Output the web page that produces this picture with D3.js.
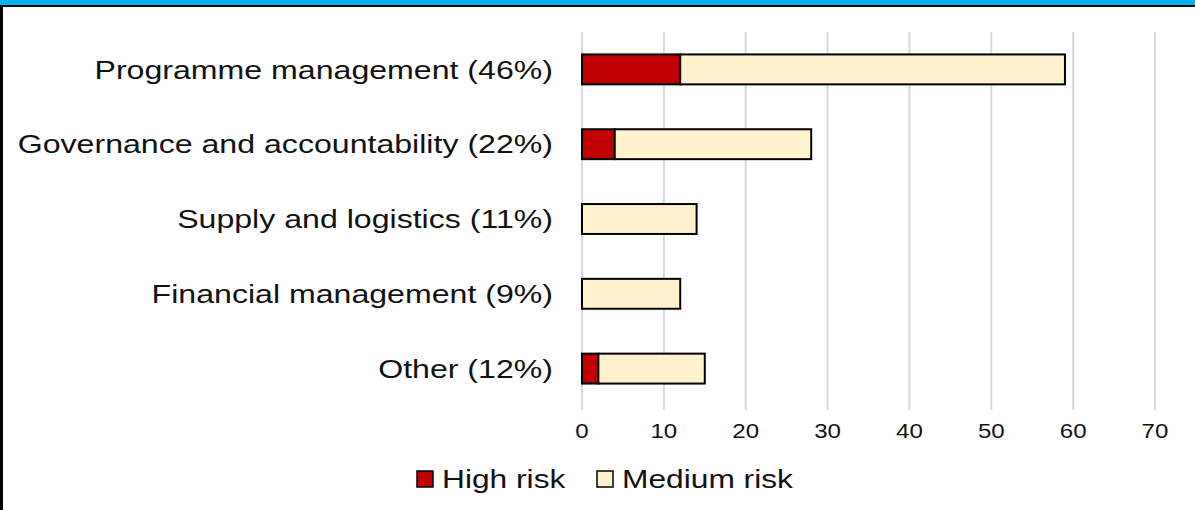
<!DOCTYPE html>
<html>
<head>
<meta charset="utf-8">
<script src="https://cdn.jsdelivr.net/npm/d3@7"></script>
<style>
  body { margin: 0; background: #fff; }
  svg { display: block; font-family: "Liberation Sans", Arial, sans-serif; }
</style>
</head>
<body>
<div id="chart"></div>
<script>
const categories = ['Programme management (46%)', 'Governance and accountability (22%)',
    'Supply and logistics (11%)', 'Financial management (9%)', 'Other (12%)'];
const highRisk = [12, 4, 0, 0, 2];
const mediumRisk = [47, 24, 14, 12, 13];
const xTicks = [0, 10, 20, 30, 40, 50, 60, 70];
const seriesNames = ['High risk', 'Medium risk'];
const seriesColors = ['#c00000', '#fff2cc'];

const width = 1195, height = 510;
const svg = d3.select('#chart').append('svg')
    .attr('width', width).attr('height', height);

// frame
svg.append('rect').attr('x', 0).attr('y', 0).attr('width', width).attr('height', 5).attr('fill', '#00b0f0');
svg.append('rect').attr('x', 0).attr('y', 5).attr('width', width).attr('height', 2).attr('fill', '#000');
svg.append('rect').attr('x', 0).attr('y', 5).attr('width', 3).attr('height', height).attr('fill', '#000');

const x = d3.scaleLinear().domain([0, 70]).range([582, 1155]);
const y = d3.scaleBand().domain(categories).range([32, 406]).paddingInner(0.6).paddingOuter(0.3);

// gridlines
svg.append('g').selectAll('line').data(xTicks).join('line')
    .attr('x1', d => x(d)).attr('x2', d => x(d))
    .attr('y1', 32).attr('y2', 410)
    .attr('stroke', '#d9d9d9').attr('stroke-width', 2);

const rows = categories.map((c, i) => ({ cat: c, vals: [highRisk[i], mediumRisk[i]] }));
const stack = d3.stack().keys([0, 1]).value((d, k) => d.vals[k]);
const layers = stack(rows);

svg.append('g').selectAll('g').data(layers).join('g')
    .attr('fill', (d, i) => seriesColors[i])
    .selectAll('rect').data(d => d.filter(s => s[1] > s[0])).join('rect')
    .attr('x', d => x(d[0]))
    .attr('width', d => x(d[1]) - x(d[0]))
    .attr('y', d => y(d.data.cat))
    .attr('height', y.bandwidth())
    .attr('stroke', '#000').attr('stroke-width', 2);

// the original text is a bit stretched sideways
const stretch = 1.235;

// category labels
svg.append('g').selectAll('text').data(categories).join('text')
    .attr('transform', d => `translate(553,${y(d) + y.bandwidth() / 2}) scale(${stretch},1)`)
    .attr('dy', '0.35em').attr('text-anchor', 'end')
    .attr('font-size', 26).attr('fill', '#111')
    .text(d => d);

// x axis labels
svg.append('g').selectAll('text').data(xTicks).join('text')
    .attr('transform', d => `translate(${x(d)},438) scale(${stretch},1)`)
    .attr('text-anchor', 'middle').attr('font-size', 19.5).attr('fill', '#111')
    .text(d => d);

// legend
const legendX = [417, 597];
const lg = svg.append('g').selectAll('g').data(seriesNames).join('g')
    .attr('transform', (d, i) => `translate(${legendX[i]},479)`);
lg.append('rect').attr('x', 0).attr('y', -8).attr('width', 16).attr('height', 16)
    .attr('fill', (d, i) => seriesColors[i]).attr('stroke', '#000').attr('stroke-width', 1.5);
lg.append('text').attr('transform', `translate(25,0) scale(1.22,1)`).attr('dy', '0.35em')
    .attr('font-size', 26).attr('fill', '#111').text(d => d);
</script>
</body>
</html>
